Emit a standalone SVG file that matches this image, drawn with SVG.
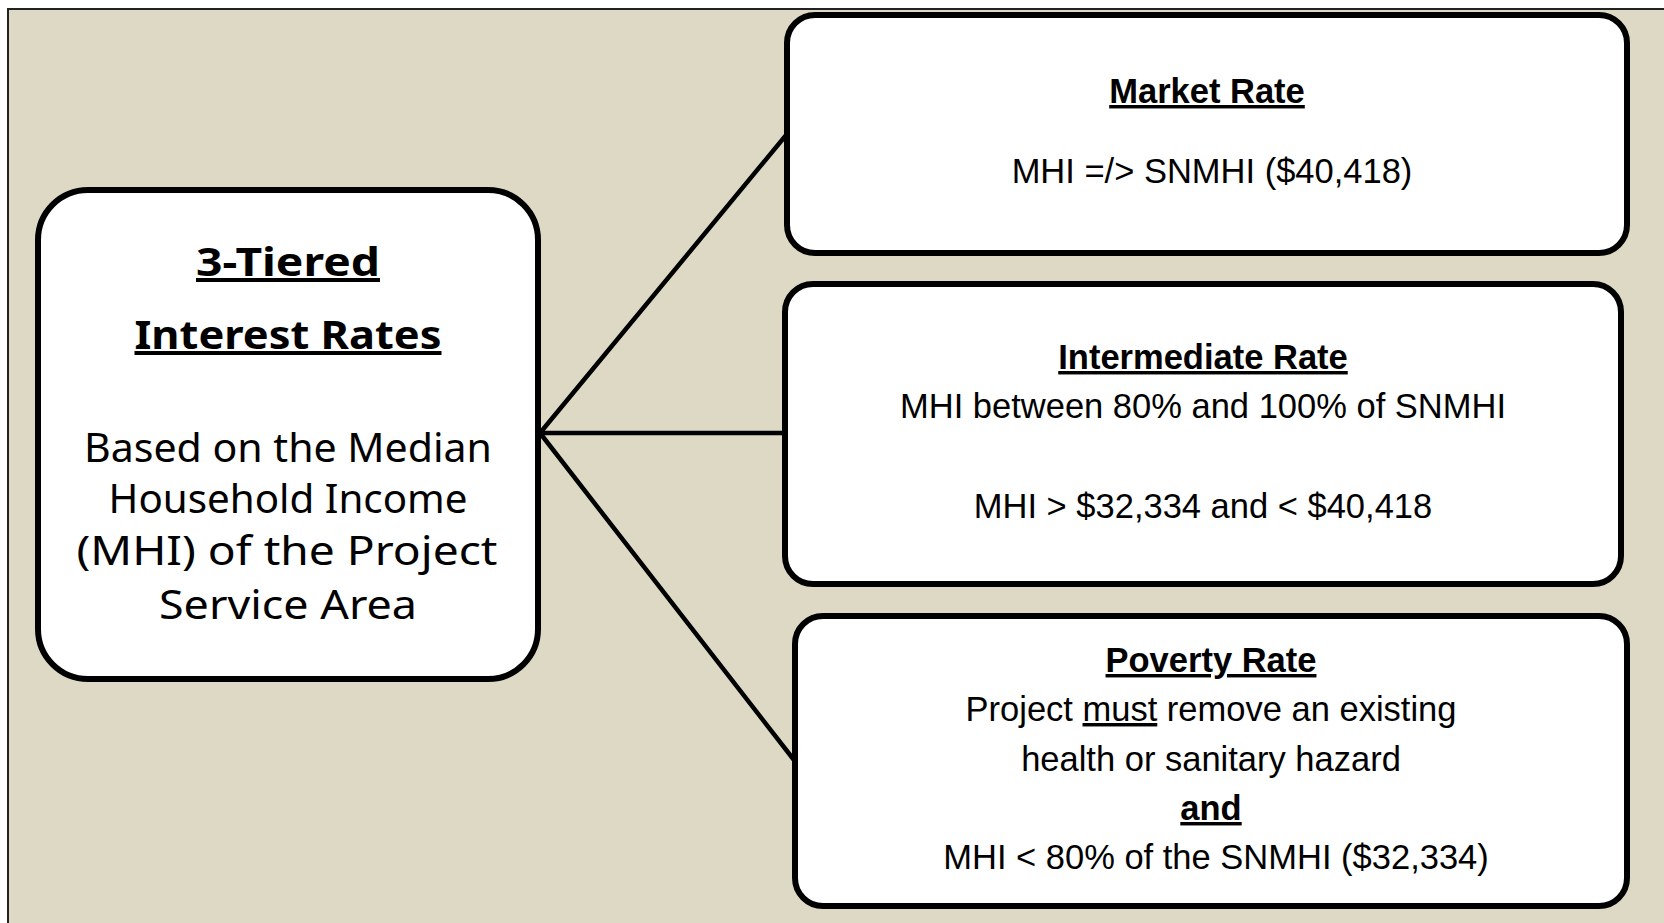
<svg xmlns="http://www.w3.org/2000/svg" width="1664" height="923" viewBox="0 0 1664 923">
<style>
.box{fill:#ffffff;stroke:#000000;stroke-width:6}
.conn line{stroke:#000000;stroke-width:4.5;stroke-linecap:round}
.lt{font-family:"Noto Sans","DejaVu Sans",sans-serif;font-size:40px;fill:#000;text-anchor:middle}
.lh{font-weight:bold;text-decoration:underline}
.rt{font-family:"Liberation Sans",Arial,sans-serif;font-size:34.5px;fill:#000;text-anchor:middle}
.rh{font-weight:bold;text-decoration:underline}
.ul{text-decoration:underline}
</style>
<rect x="0" y="0" width="1664" height="923" fill="#ffffff"/>
<rect x="8" y="9" width="1660" height="920" fill="#DDD9C4" stroke="#222222" stroke-width="2"/>
<g id="connectors" class="conn">
<line x1="540" y1="433" x2="787" y2="134"/>
<line x1="540" y1="433" x2="784" y2="433"/>
<line x1="540" y1="433" x2="794" y2="760"/>
</g>
<g id="node-tiered">
<rect class="box" x="38" y="190" width="500" height="489" rx="50" ry="50"/>
<text class="lt lh" x="288" y="276" textLength="184" lengthAdjust="spacingAndGlyphs">3-Tiered</text>
<text class="lt lh" x="288" y="349" textLength="307" lengthAdjust="spacingAndGlyphs">Interest Rates</text>
<text class="lt" x="288" y="462" textLength="408" lengthAdjust="spacingAndGlyphs">Based on the Median</text>
<text class="lt" x="288" y="513" textLength="359" lengthAdjust="spacingAndGlyphs">Household Income</text>
<text class="lt" x="287" y="565" textLength="421" lengthAdjust="spacingAndGlyphs">(MHI) of the Project</text>
<text class="lt" x="288" y="619" textLength="258" lengthAdjust="spacingAndGlyphs">Service Area</text>
</g>
<g id="node-market">
<rect class="box" x="787" y="15" width="840" height="238" rx="28" ry="28"/>
<text class="rt rh" x="1207" y="103">Market Rate</text>
<text class="rt" x="1212" y="183">MHI =/&gt; SNMHI ($40,418)</text>
</g>
<g id="node-intermediate">
<rect class="box" x="785" y="284" width="836" height="300" rx="28" ry="28"/>
<text class="rt rh" x="1203" y="369">Intermediate Rate</text>
<text class="rt" x="1203" y="418">MHI between 80% and 100% of SNMHI</text>
<text class="rt" x="1203" y="518">MHI &gt; $32,334 and &lt; $40,418</text>
</g>
<g id="node-poverty">
<rect class="box" x="795" y="616" width="832" height="290" rx="28" ry="28"/>
<text class="rt rh" x="1211" y="672">Poverty Rate</text>
<text class="rt" x="1211" y="721">Project <tspan class="ul">must</tspan> remove an existing</text>
<text class="rt" x="1211" y="771">health or sanitary hazard</text>
<text class="rt rh" x="1211" y="820">and</text>
<text class="rt" x="1216" y="869">MHI &lt; 80% of the SNMHI ($32,334)</text>
</g>
</svg>
